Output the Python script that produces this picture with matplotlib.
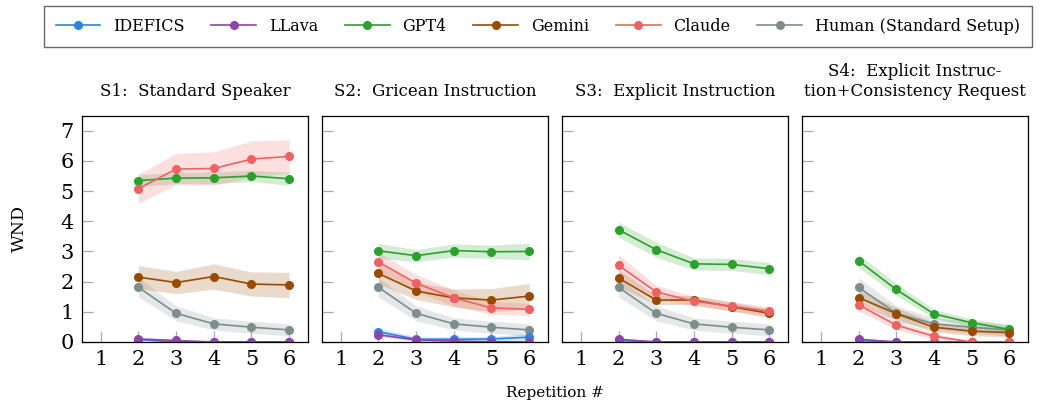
import numpy as np
import matplotlib
matplotlib.use("Agg")
import matplotlib.pyplot as plt

plt.rcParams['font.family'] = ['DejaVu Serif']
plt.rcParams['mathtext.fontset'] = 'dejavuserif'

reps = [2, 3, 4, 5, 6]
models = ['IDEFICS', 'LLava', 'GPT4', 'Gemini', 'Claude', 'Human (Standard Setup)']
colors = ['#2a84e0', '#8e44ad', '#2ca02c', '#9a4a00', '#f06262', '#7f8c8d']
titles = ['S1:  Standard Speaker', 'S2:  Gricean Instruction',
          'S3:  Explicit Instruction', 'S4:  Explicit Instruc-\ntion+Consistency Request']

# human baseline (same in every panel)
human_mean = [1.81, 0.95, 0.60, 0.49, 0.40]
human_err = [0.32, 0.25, 0.20, 0.20, 0.20]

# S1
s1_idefics = [0.08, 0.00, 0.00, 0.00, 0.00]
s1_llava = [0.10, 0.05, 0.00, 0.00, 0.00]
s1_gpt4 = [5.35, 5.43, 5.44, 5.50, 5.41]
s1_gemini = [2.15, 1.97, 2.17, 1.92, 1.89]
s1_claude = [5.08, 5.73, 5.75, 6.06, 6.15]
s1_err_idefics = [0.03, 0.01, 0.0, 0.0, 0.0]
s1_err_llava = [0.04, 0.02, 0.0, 0.0, 0.0]
s1_err_gpt4 = [0.20, 0.18, 0.20, 0.18, 0.22]
s1_err_gemini = [0.38, 0.37, 0.42, 0.40, 0.42]
s1_err_claude = [0.48, 0.52, 0.55, 0.60, 0.55]

# S2
s2_idefics = [0.34, 0.09, 0.09, 0.10, 0.16]
s2_llava = [0.24, 0.07, 0.03, 0.01, 0.00]
s2_gpt4 = [3.02, 2.86, 3.03, 2.99, 3.00]
s2_gemini = [2.27, 1.69, 1.46, 1.39, 1.52]
s2_claude = [2.65, 1.95, 1.46, 1.13, 1.08]
s2_err_idefics = [0.12, 0.08, 0.08, 0.08, 0.12]
s2_err_llava = [0.06, 0.03, 0.02, 0.01, 0.0]
s2_err_gpt4 = [0.25, 0.20, 0.22, 0.22, 0.28]
s2_err_gemini = [0.35, 0.28, 0.30, 0.38, 0.42]
s2_err_claude = [0.32, 0.28, 0.26, 0.22, 0.20]

# S3
s3_idefics = [0.05, 0.00, 0.00, 0.00, 0.00]
s3_llava = [0.09, 0.00, 0.00, 0.00, 0.00]
s3_gpt4 = [3.72, 3.06, 2.59, 2.57, 2.43]
s3_gemini = [2.12, 1.39, 1.39, 1.17, 0.95]
s3_claude = [2.54, 1.66, 1.35, 1.19, 1.02]
s3_err_idefics = [0.03, 0.0, 0.0, 0.0, 0.0]
s3_err_llava = [0.05, 0.0, 0.0, 0.0, 0.0]
s3_err_gpt4 = [0.25, 0.25, 0.20, 0.20, 0.20]
s3_err_gemini = [0.28, 0.15, 0.15, 0.15, 0.15]
s3_err_claude = [0.35, 0.22, 0.16, 0.15, 0.15]

# S4
s4_idefics = [0.05, 0.00, 0.00, 0.00, 0.00]
s4_llava = [0.09, 0.00, 0.00, 0.00, 0.00]
s4_gpt4 = [2.69, 1.74, 0.93, 0.64, 0.42]
s4_gemini = [1.47, 0.94, 0.49, 0.36, 0.31]
s4_claude = [1.23, 0.56, 0.19, 0.00, 0.00]
s4_err_idefics = [0.03, 0.0, 0.0, 0.0, 0.0]
s4_err_llava = [0.05, 0.0, 0.0, 0.0, 0.0]
s4_err_gpt4 = [0.22, 0.20, 0.15, 0.13, 0.13]
s4_err_gemini = [0.25, 0.20, 0.16, 0.15, 0.15]
s4_err_claude = [0.20, 0.15, 0.10, 0.02, 0.0]

panels = [
    ([s1_idefics, s1_llava, s1_gpt4, s1_gemini, s1_claude, human_mean],
     [s1_err_idefics, s1_err_llava, s1_err_gpt4, s1_err_gemini, s1_err_claude, human_err]),
    ([s2_idefics, s2_llava, s2_gpt4, s2_gemini, s2_claude, human_mean],
     [s2_err_idefics, s2_err_llava, s2_err_gpt4, s2_err_gemini, s2_err_claude, human_err]),
    ([s3_idefics, s3_llava, s3_gpt4, s3_gemini, s3_claude, human_mean],
     [s3_err_idefics, s3_err_llava, s3_err_gpt4, s3_err_gemini, s3_err_claude, human_err]),
    ([s4_idefics, s4_llava, s4_gpt4, s4_gemini, s4_claude, human_mean],
     [s4_err_idefics, s4_err_llava, s4_err_gpt4, s4_err_gemini, s4_err_claude, human_err]),
]

fig = plt.figure(figsize=(10.4, 4.05), dpi=100)
x = np.array(reps)
handles = []
for p, (means, errs) in enumerate(panels):
    ax = fig.add_axes([0.0788 + p * 0.2308, 0.1556, 0.2173, 0.5588])
    # human first so the models sit on top
    order = [5, 0, 1, 2, 3, 4]
    for i in order:
        m = np.array(means[i])
        e = np.array(errs[i])
        ax.fill_between(x, np.clip(m - e, 0, None), m + e, color=colors[i], alpha=0.2, lw=0)
        ln, = ax.plot(x, m, '-o', color=colors[i], lw=1.2, ms=5.5, label=models[i])
        if p == 0:
            handles.append(ln)
    ax.set_xlim(0.5, 6.5)
    ax.set_ylim(0, 7.5)
    ax.set_xticks([1, 2, 3, 4, 5, 6])
    ax.set_yticks(range(8))
    ax.tick_params(direction='in', length=8, color='#aaaaaa', labelsize=15, width=0.9, pad=6)
    if p > 0:
        ax.set_yticklabels([])
    else:
        ax.set_ylabel('WND', fontsize=12.5)
        ax.yaxis.set_label_coords(-0.24, 0.5)
    ax.set_title(titles[p], fontsize=12, pad=14, linespacing=1.25)
    for s in ax.spines.values():
        s.set_linewidth(0.9)

# legend in model order
hmap = {h.get_label(): h for h in handles}
leg = fig.legend([hmap[m] for m in models], models, loc='upper left',
                 bbox_to_anchor=(0.042, 0.886, 0.950, 0.099), mode='expand', ncol=6,
                 fontsize=11.5, frameon=True, fancybox=False, edgecolor='#444444',
                 handlelength=2.8, handletextpad=0.8, borderpad=0.75, borderaxespad=0)
leg.get_frame().set_linewidth(1.0)

fig.text(0.534, 0.03, 'Repetition #', ha='center', va='center', fontsize=11)
fig.savefig('out.png', dpi=100)
